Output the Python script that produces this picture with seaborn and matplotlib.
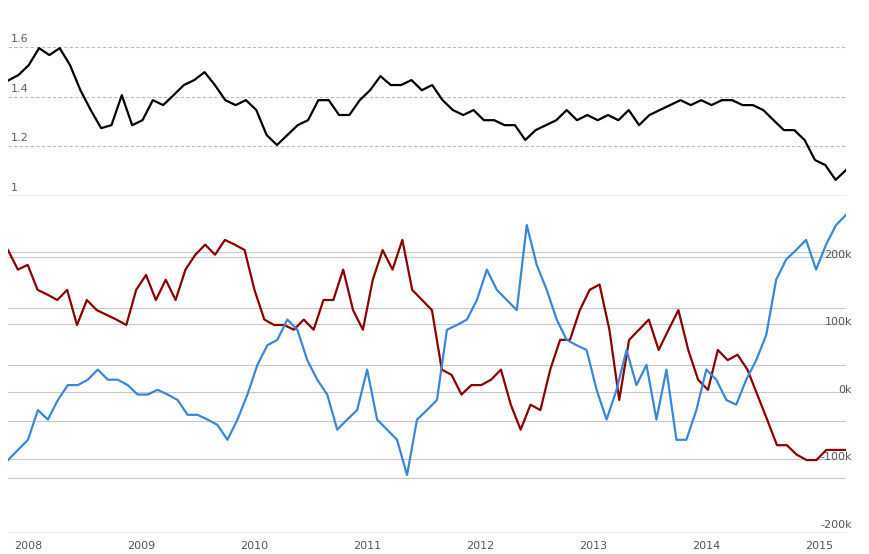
import matplotlib.pyplot as plt
import pandas as pd
import seaborn as sns

# top panel (ratio)
black_vals = [1.466, 1.488, 1.528, 1.597, 1.569, 1.597, 1.528, 1.427, 1.347, 1.274, 1.286, 1.407,
              1.286, 1.306, 1.387, 1.367, 1.407, 1.448, 1.468, 1.500, 1.448, 1.387, 1.367, 1.387,
              1.347, 1.246, 1.206, 1.246, 1.286, 1.306, 1.387, 1.387, 1.327, 1.327, 1.387, 1.427,
              1.484, 1.448, 1.448, 1.468, 1.427, 1.448, 1.387, 1.347, 1.327, 1.347, 1.306, 1.306,
              1.286, 1.286, 1.226, 1.266, 1.286, 1.306, 1.347, 1.306, 1.327, 1.306, 1.327, 1.306,
              1.347, 1.286, 1.327, 1.347, 1.367, 1.387, 1.367, 1.387, 1.367, 1.387, 1.387, 1.367,
              1.367, 1.347, 1.306, 1.266, 1.266, 1.226, 1.145, 1.125, 1.065, 1.105]

# bottom panel (thousands)
red_vals = [210, 181, 188, 151, 144, 136, 151, 99, 136, 121, 114, 107, 99, 151, 173, 136, 166, 136,
            181, 203, 218, 203, 225, 218, 210, 151, 107, 99, 99, 92, 107, 92, 136, 136, 181, 121,
            92, 166, 210, 181, 225, 151, 136, 121, 33, 25, -4, 10, 10, 18, 33, -19, -56, -19, -27,
            33, 77, 77, 121, 151, 159, 92, -12, 77, 92, 107, 62, 92, 121, 62, 18, 3, 62, 47, 55,
            33, -4, -41, -79, -79, -93, -101, -101, -86, -86, -86]
blue_vals = [-101, -86, -71, -27, -41, -12, 10, 10, 18, 33, 18, 18, 10, -4, -4, 3, -4, -12, -34, -34,
             -41, -49, -71, -41, -4, 40, 69, 77, 107, 92, 47, 18, -4, -56, -41, -27, 33, -41, -56,
             -71, -123, -41, -27, -12, 92, 99, 107, 136, 181, 151, 136, 121, 247, 188, 151, 107, 77,
             69, 62, 3, -41, 3, 62, 10, 40, -41, 33, -71, -71, -27, 33, 18, -12, -19, 18, 47, 84,
             166, 196, 210, 225, 181, 218, 247, 262]

year_labels = ["2008", "2009", "2010", "2011", "2012", "2013", "2014", "2015"]
top_ticks = [1.0, 1.2, 1.4, 1.6]
top_tick_labels = ["1", "1.2", "1.4", "1.6"]
right_ticks = [200, 100, 0, -100, -200]
right_tick_labels = ["200k", "100k", "0k", "-100k", "-200k"]
extra_grid = [207, 124, 40, -43, -127]

start, end = pd.Timestamp("2007-10-27"), pd.Timestamp("2015-03-28")
top_df = pd.DataFrame({"date": pd.date_range(start, end, periods=len(black_vals)), "v": black_vals})
red_df = pd.DataFrame({"date": pd.date_range(start, end, periods=len(red_vals)), "v": red_vals})
blue_df = pd.DataFrame({"date": pd.date_range(start, end, periods=len(blue_vals)), "v": blue_vals})

W, H = 869, 554
fig = plt.figure(figsize=(W / 100, H / 100), dpi=100)
x0, x1 = 8 / W, 846 / W
ax_top = fig.add_axes([x0, 1 - 196 / H, x1 - x0, (196 - 35) / H])
ax_bot = fig.add_axes([x0, 1 - 533 / H, x1 - x0, (533 - 196) / H])

for ax in (ax_top, ax_bot):
    for s in ax.spines.values():
        s.set_visible(False)
    ax.set_xlim(start, end)
    ax.set_facecolor("none")

# top
for t, lab in zip(top_ticks, top_tick_labels):
    if t > 1:
        ax_top.axhline(t, color="#bbbbbb", lw=0.8, ls=(0, (3, 2)), zorder=0)
    else:
        ax_top.axhline(t, color="#999999", lw=1, zorder=0)
    ax_top.text(0.003, t + 0.012, lab, transform=ax_top.get_yaxis_transform(),
                fontsize=8, color="#705070", va="bottom")
sns.lineplot(data=top_df, x="date", y="v", ax=ax_top, color="black", lw=1.6)
ax_top.set_ylim(1.0, 1.65)
ax_top.set_xticks([])
ax_top.set_yticks([])
ax_top.set_xlabel("")
ax_top.set_ylabel("")

# bottom
for g in extra_grid + right_ticks[:-1]:
    ax_bot.axhline(g, color="#c8c8c8", lw=0.8, zorder=0)
ax_bot.axhline(-209, color="#999999", lw=1, zorder=0)
sns.lineplot(data=red_df, x="date", y="v", ax=ax_bot, color="#8b0000", lw=1.6)
sns.lineplot(data=blue_df, x="date", y="v", ax=ax_bot, color="#3a86d8", lw=1.6)
ax_bot.set_ylim(-209, 290)
ax_bot.set_yticks([])
for t, lab in zip(right_ticks, right_tick_labels):
    ax_bot.text(1.007, t + 3, lab, transform=ax_bot.get_yaxis_transform(), ha="right", va="center",
                fontsize=8, color="#555555")
ax_bot.set_xticks([pd.Timestamp(f"{y}-01-01") for y in year_labels])
ax_bot.set_xticklabels(year_labels, fontsize=8, color="#555555")
ax_bot.tick_params(axis="x", length=0, pad=6)
ax_bot.set_xlabel("")
ax_bot.set_ylabel("")

fig.savefig("out.png", dpi=100)
